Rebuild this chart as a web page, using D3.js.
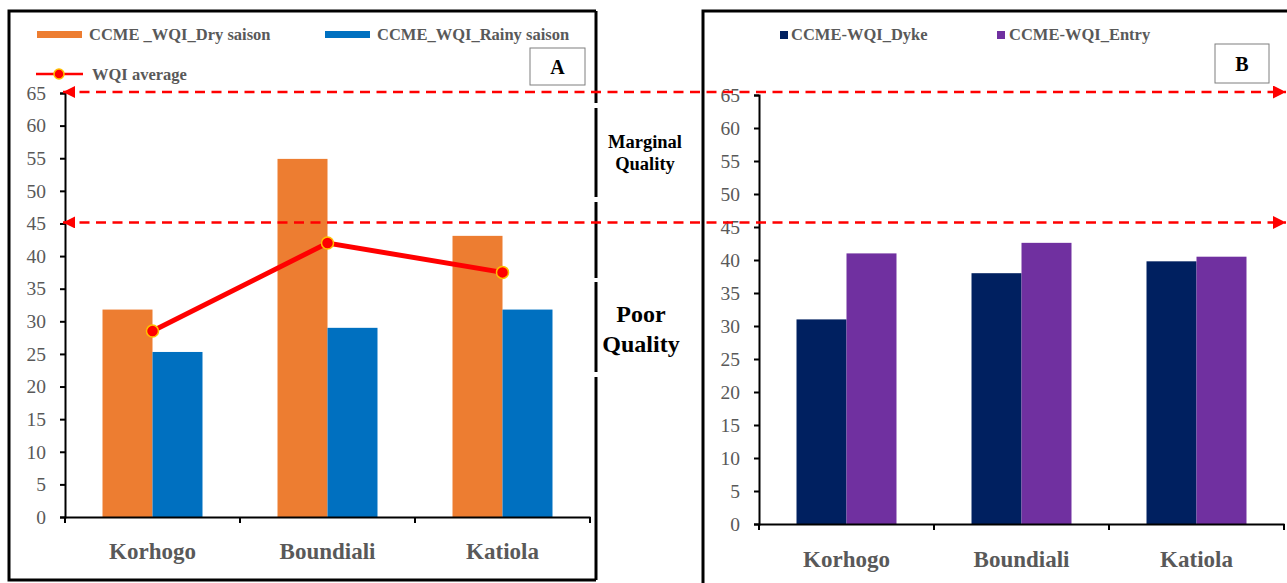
<!DOCTYPE html>
<html>
<head>
<meta charset="utf-8">
<script src="https://cdn.jsdelivr.net/npm/d3@7"></script>
<style>
  html, body { margin: 0; padding: 0; background: #fff; }
  svg { display: block; }
  text { font-family: "Liberation Serif", "Times New Roman", serif; }
</style>
</head>
<body>
<svg id="chart" width="1287" height="583"></svg>
<script>
// Study sites
const categories = ["Korhogo", "Boundiali", "Katiola"];

// Panel A: CCME WQI by season
const dryValues = [31.8, 54.9, 43.1];
const rainyValues = [25.3, 29.0, 31.8];
const wqiAverage = [28.5, 42.0, 37.5];

// Panel B: CCME WQI by sampling point
const dykeValues = [31.0, 38.0, 39.8];
const entryValues = [41.0, 42.6, 40.5];

// Axis ticks and quality class thresholds
const yTicks = [0, 5, 10, 15, 20, 25, 30, 35, 40, 45, 50, 55, 60, 65];
const thresholds = [65, 45];

const colors = {
  dry: "#ED7D31",
  rainy: "#0070C0",
  avg: "#FF0000",
  avgStroke: "#FFC000",
  dyke: "#002060",
  entry: "#7030A0",
  text: "#595959"
};

const serif = "'Liberation Serif', 'Times New Roman', serif";
const svg = d3.select("#chart");

// ---------- Frames ----------
const frame = svg.append("g").attr("fill", "none").attr("stroke", "#000").attr("stroke-width", 3);
frame.append("path").attr("d", "M596,11 L9,11 L9,580 L596,580");
// right edge of panel A, drawn in pieces
[[11, 103], [108, 197], [202, 278], [282, 372], [377, 580]].forEach(([a, b]) => {
  frame.append("line").attr("x1", 596).attr("x2", 596).attr("y1", a).attr("y2", b);
});
frame.append("path").attr("d", "M703,590 L703,11 L1290,11");

// ---------- Panel drawing helper ----------
function drawPanel(opts) {
  const g = svg.append("g");
  const y = d3.scaleLinear().domain([0, 65]).range([opts.y0, opts.y65]);
  const x = d3.scaleBand().domain(categories).range([opts.xl, opts.xr])
    .paddingInner(0.4286).paddingOuter(0.2143);
  const inner = d3.scaleBand().domain(opts.series.map(s => s.key)).range([0, x.bandwidth()]);

  // bars
  opts.series.forEach(s => {
    g.append("g").selectAll("rect").data(s.values).join("rect")
      .attr("x", (d, i) => x(categories[i]) + inner(s.key))
      .attr("y", d => y(d))
      .attr("width", inner.bandwidth())
      .attr("height", d => y(0) - y(d))
      .attr("fill", s.color);
  });

  // y axis
  const ya = g.append("g").attr("transform", `translate(${opts.xl},0)`)
    .call(d3.axisLeft(y).tickValues(yTicks).tickSize(5).tickPadding(14));
  ya.attr("font-family", null);
  ya.select(".domain").attr("stroke", "#000").attr("stroke-width", 2);
  ya.selectAll(".tick line").attr("stroke", "#000").attr("stroke-width", 2);
  ya.selectAll("text").attr("fill", colors.text)
    .style("font-family", serif).style("font-size", "19.5px");

  // x axis: category names under each group
  const xa = g.append("g").attr("transform", `translate(0,${opts.y0})`)
    .call(d3.axisBottom(x).tickSize(0).tickPadding(opts.labelPad).tickSizeOuter(0));
  xa.attr("font-family", null);
  xa.select(".domain").attr("stroke", "#000").attr("stroke-width", 2);
  xa.selectAll("text").attr("fill", colors.text)
    .style("font-family", serif).style("font-size", "23px").style("font-weight", "bold");

  // tick marks at the category boundaries
  const step = (opts.xr - opts.xl) / categories.length;
  g.append("g").selectAll("line").data(d3.range(categories.length + 1)).join("line")
    .attr("x1", i => opts.xl + i * step).attr("x2", i => opts.xl + i * step)
    .attr("y1", opts.y0).attr("y2", opts.y0 + 6)
    .attr("stroke", "#000").attr("stroke-width", 2);

  return { g, x, y };
}

// ---------- Panel A ----------
const A = drawPanel({
  xl: 65, xr: 590, y0: 517, y65: 93, labelPad: 26,
  series: [
    { key: "dry", values: dryValues, color: colors.dry },
    { key: "rainy", values: rainyValues, color: colors.rainy }
  ]
});

// average line
const avgLine = d3.line()
  .x((d, i) => A.x(categories[i]) + A.x.bandwidth() / 2)
  .y(d => A.y(d));
A.g.append("path").datum(wqiAverage).attr("d", avgLine)
  .attr("fill", "none").attr("stroke", colors.avg).attr("stroke-width", 5);
A.g.append("g").selectAll("circle").data(wqiAverage).join("circle")
  .attr("cx", (d, i) => A.x(categories[i]) + A.x.bandwidth() / 2)
  .attr("cy", d => A.y(d))
  .attr("r", 6)
  .attr("fill", colors.avg).attr("stroke", colors.avgStroke).attr("stroke-width", 1.5);

// ---------- Panel B ----------
const B = drawPanel({
  xl: 759, xr: 1284, y0: 524, y65: 95, labelPad: 27,
  series: [
    { key: "dyke", values: dykeValues, color: colors.dyke },
    { key: "entry", values: entryValues, color: colors.entry }
  ]
});

// ---------- Legends ----------
const legendFont = g => g.attr("fill", colors.text).style("font-family", serif)
  .style("font-size", "16.5px").style("font-weight", "bold");

svg.append("rect").attr("x", 37).attr("y", 31).attr("width", 45).attr("height", 7).attr("fill", colors.dry);
svg.append("text").attr("x", 89).attr("y", 40).text("CCME _WQI_Dry saison").call(legendFont);
svg.append("rect").attr("x", 325).attr("y", 31).attr("width", 45).attr("height", 7).attr("fill", colors.rainy);
svg.append("text").attr("x", 377).attr("y", 40).text("CCME_WQI_Rainy saison").call(legendFont);

svg.append("line").attr("x1", 36).attr("x2", 83).attr("y1", 74).attr("y2", 74)
  .attr("stroke", colors.avg).attr("stroke-width", 2.5);
svg.append("circle").attr("cx", 59).attr("cy", 74).attr("r", 5)
  .attr("fill", colors.avg).attr("stroke", colors.avgStroke).attr("stroke-width", 1.5);
svg.append("text").attr("x", 92).attr("y", 80).text("WQI average").call(legendFont);

svg.append("rect").attr("x", 780).attr("y", 31).attr("width", 8).attr("height", 8).attr("fill", colors.dyke);
svg.append("text").attr("x", 791).attr("y", 40).text("CCME-WQI_Dyke").call(legendFont);
svg.append("rect").attr("x", 997).attr("y", 31).attr("width", 8).attr("height", 8).attr("fill", colors.entry);
svg.append("text").attr("x", 1009).attr("y", 40).text("CCME-WQI_Entry").call(legendFont);

// ---------- Panel labels ----------
function panelTag(x, y, w, h, label) {
  svg.append("rect").attr("x", x).attr("y", y).attr("width", w).attr("height", h)
    .attr("fill", "#fff").attr("stroke", "#7f7f7f").attr("stroke-width", 1);
  svg.append("text").attr("x", x + w / 2).attr("y", y + h / 2 + 7)
    .attr("text-anchor", "middle").style("font-family", serif)
    .style("font-size", "20px").style("font-weight", "bold")
    .attr("fill", "#000").text(label);
}
panelTag(530, 48, 55, 37, "A");
panelTag(1215, 44, 54, 39, "B");

// ---------- Quality class thresholds ----------
const defs = svg.append("defs");
defs.append("marker").attr("id", "arrowEnd").attr("viewBox", "0 0 10 10")
  .attr("refX", 10).attr("refY", 5).attr("markerWidth", 15).attr("markerHeight", 13)
  .attr("markerUnits", "userSpaceOnUse").attr("orient", "auto")
  .append("path").attr("d", "M0,0 L10,5 L0,10 Z").attr("fill", colors.avg);
defs.append("marker").attr("id", "arrowStart").attr("viewBox", "0 0 10 10")
  .attr("refX", 10).attr("refY", 5).attr("markerWidth", 15).attr("markerHeight", 12)
  .attr("markerUnits", "userSpaceOnUse").attr("orient", "auto-start-reverse")
  .append("path").attr("d", "M0,0 L10,5 L0,10 Z").attr("fill", colors.avg);

svg.append("g").selectAll("line").data(thresholds).join("line")
  .attr("x1", 63).attr("x2", 1286)
  .attr("y1", d => A.y(d) - 1).attr("y2", d => A.y(d) - 1)
  .attr("stroke", colors.avg).attr("stroke-width", 2.6)
  .attr("stroke-dasharray", "10,6.5")
  .attr("marker-start", "url(#arrowStart)")
  .attr("marker-end", "url(#arrowEnd)");

// class names between the panels
const cls = svg.append("g").attr("text-anchor", "middle").attr("fill", "#000")
  .style("font-family", serif).style("font-weight", "bold");
cls.append("text").attr("x", 645).attr("y", 148).style("font-size", "18.5px").text("Marginal");
cls.append("text").attr("x", 645).attr("y", 170).style("font-size", "18.5px").text("Quality");
cls.append("text").attr("x", 641).attr("y", 322).style("font-size", "24px").text("Poor");
cls.append("text").attr("x", 641).attr("y", 352).style("font-size", "24px").text("Quality");
</script>
</body>
</html>
